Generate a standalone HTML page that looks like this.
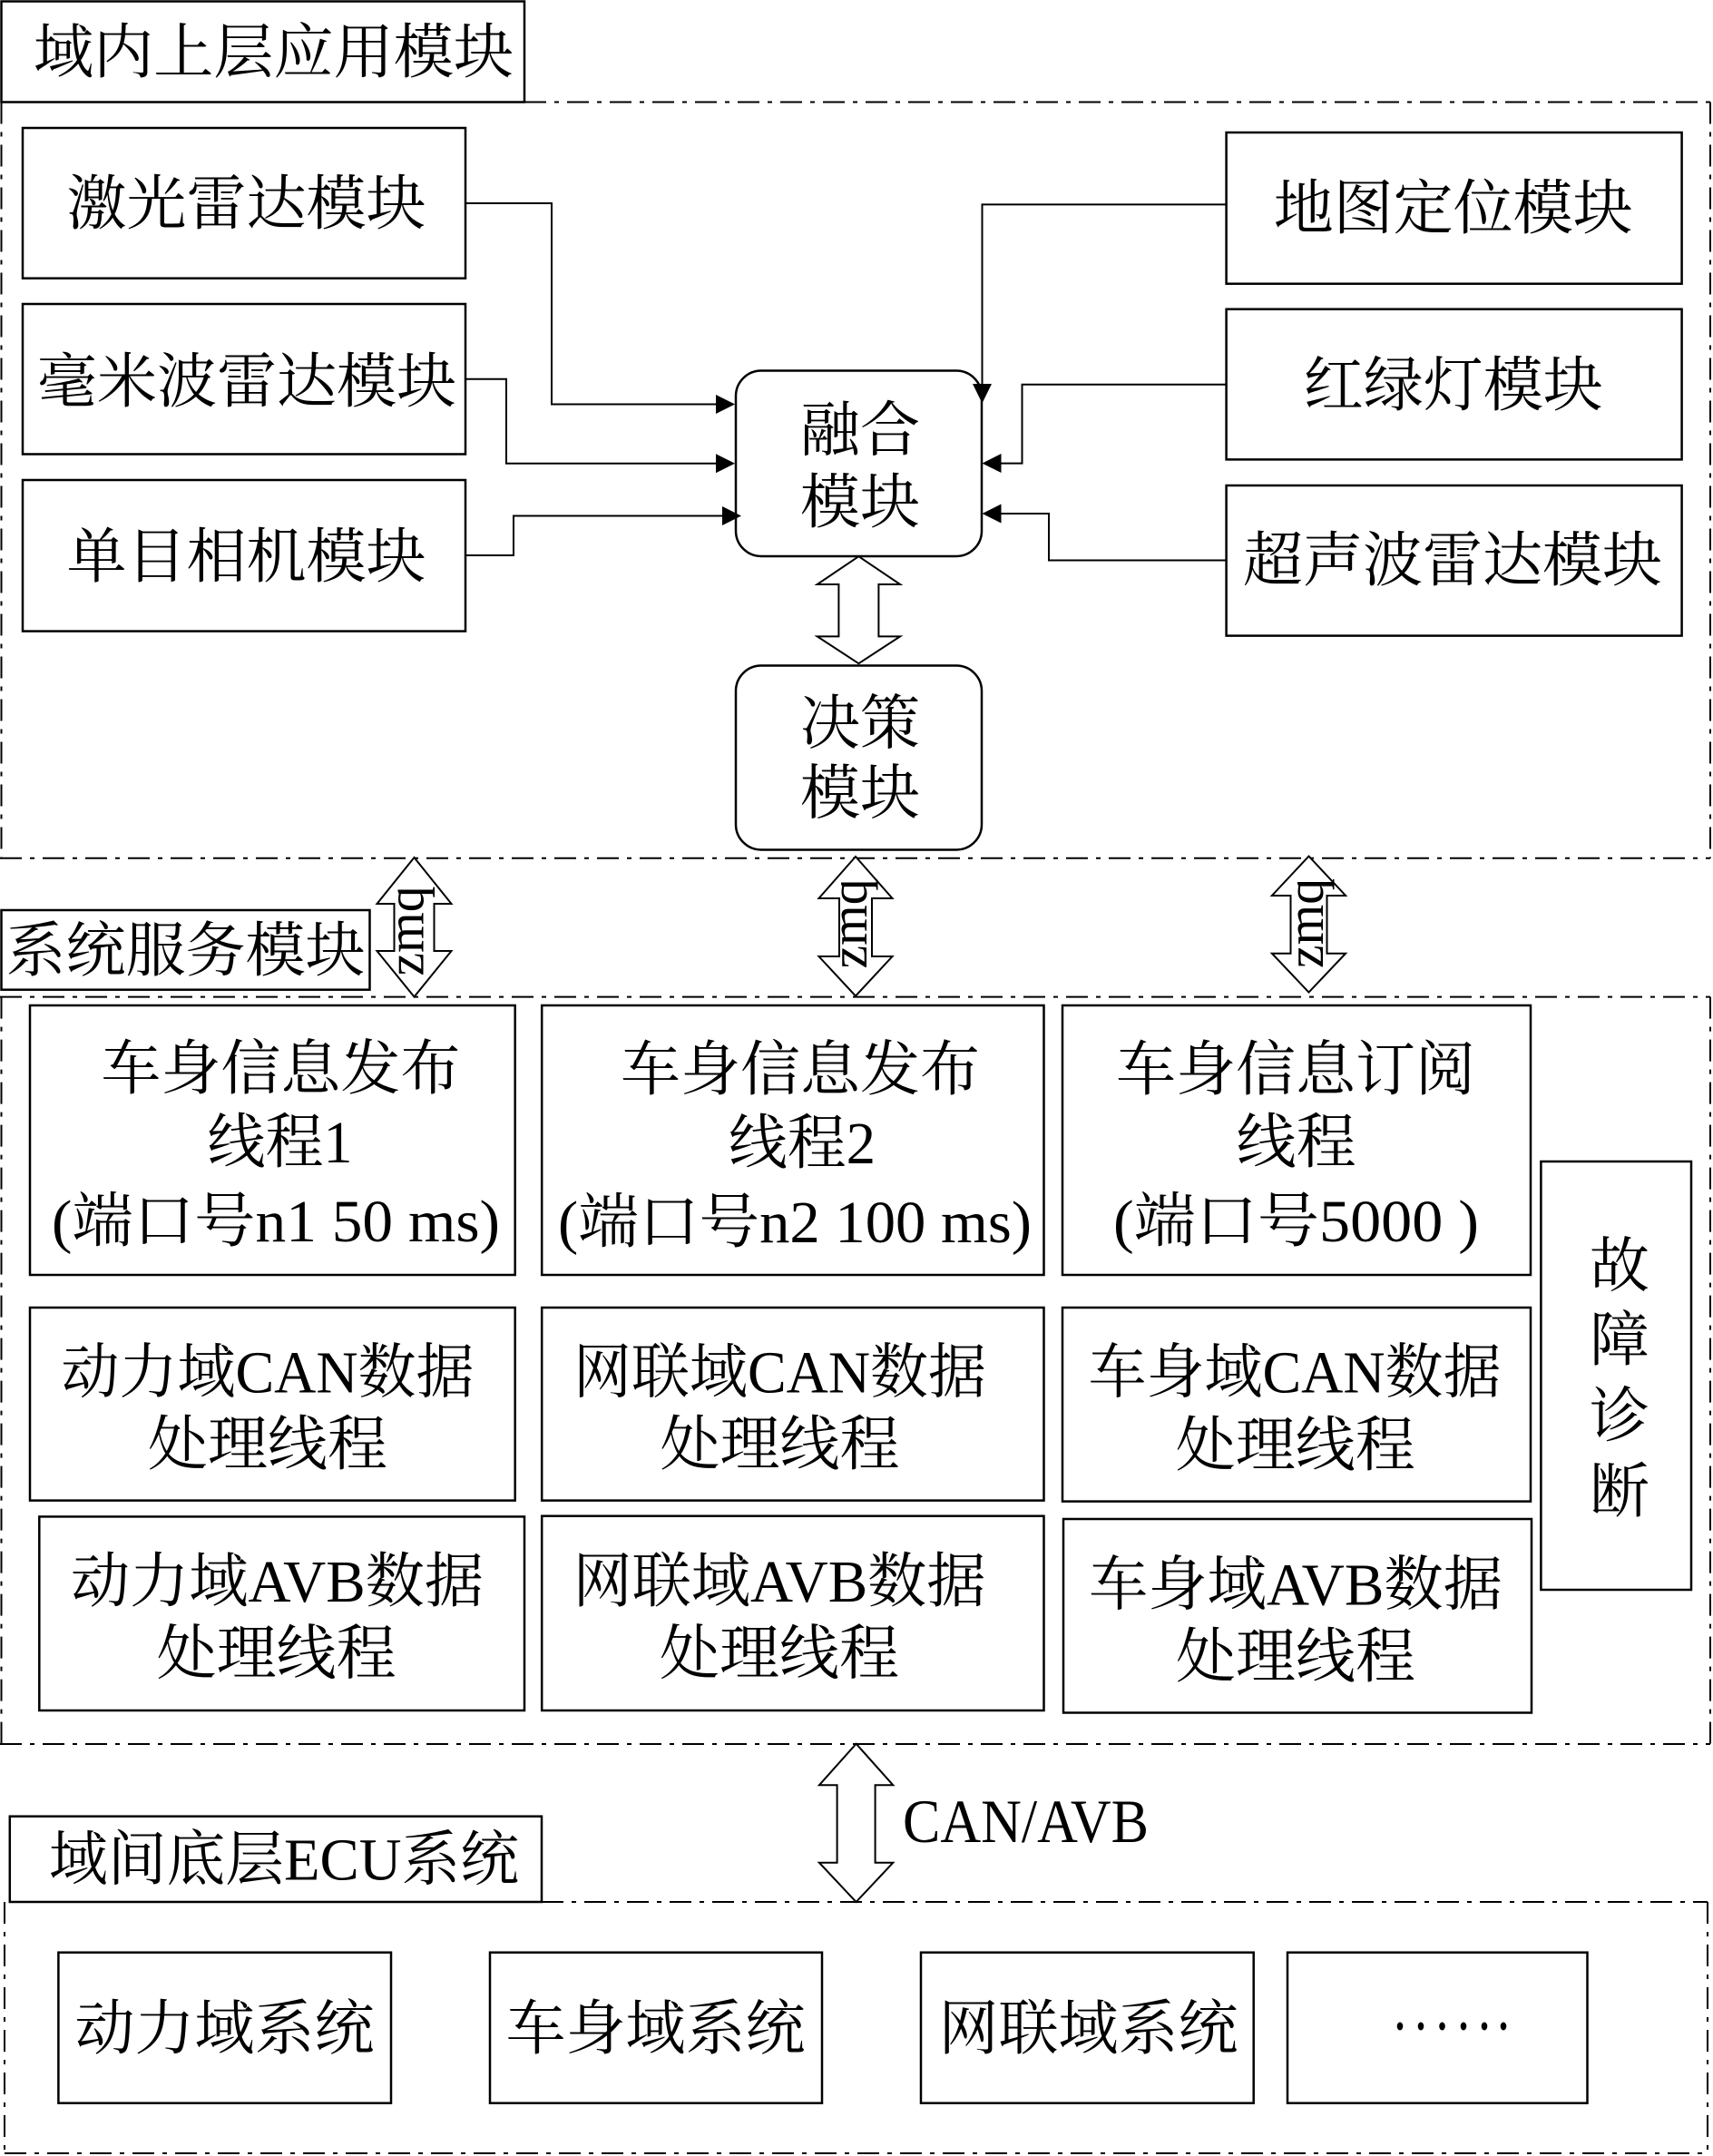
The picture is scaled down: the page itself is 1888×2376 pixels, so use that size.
<!DOCTYPE html>
<html>
<head>
<meta charset="utf-8">
<style>
html,body{margin:0;padding:0;background:#fff;}
svg{display:block;}
text{font-family:"Liberation Serif","Noto Serif CJK SC",serif;fill:#000;}
</style>
</head>
<body>
<svg width="1888" height="2376" viewBox="0 0 1888 2376" xmlns="http://www.w3.org/2000/svg">
<rect x="0" y="0" width="1888" height="2376" fill="#fff"/>

<!-- dash-dot region borders -->
<g stroke="#000" stroke-width="2" fill="none" stroke-dasharray="24 9 5 9">
  <line x1="578" y1="112.5" x2="1885" y2="112.5"/>
  <line x1="1885" y1="112.5" x2="1885" y2="945.7"/>
  <line x1="0" y1="945.7" x2="1885" y2="945.7"/>
  <line x1="1.5" y1="112.5" x2="1.5" y2="945.7"/>

  <line x1="0" y1="1098.6" x2="1885" y2="1098.6"/>
  <line x1="1885" y1="1098.6" x2="1885" y2="1922"/>
  <line x1="0" y1="1922" x2="1885" y2="1922"/>
  <line x1="1.5" y1="1098.6" x2="1.5" y2="1922"/>

  <line x1="597" y1="2096" x2="1882" y2="2096"/>
  <line x1="1882" y1="2096" x2="1882" y2="2373"/>
  <line x1="5" y1="2373" x2="1882" y2="2373"/>
  <line x1="5" y1="2096" x2="5" y2="2373"/>
</g>

<!-- boxes -->
<g stroke="#000" stroke-width="2.5" fill="none">
  <rect x="1.5" y="1.5" width="576.5" height="111"/>
  <rect x="25" y="141" width="488" height="165.7"/>
  <rect x="25" y="335" width="488" height="165.5"/>
  <rect x="25" y="529" width="488" height="166.6"/>
  <rect x="1351.6" y="146" width="502" height="166.7"/>
  <rect x="1351.6" y="340.7" width="502" height="165.7"/>
  <rect x="1351.6" y="535" width="502" height="165.6"/>
  <rect x="811" y="408.5" width="271" height="204.5" rx="28" ry="28"/>
  <rect x="811" y="733.5" width="271" height="203" rx="28" ry="28"/>

  <rect x="1.5" y="1003" width="406" height="87.7"/>
  <rect x="33" y="1108" width="534.7" height="297"/>
  <rect x="597.2" y="1108" width="553.3" height="297"/>
  <rect x="1171" y="1108" width="516" height="297"/>
  <rect x="33" y="1441" width="534.7" height="212.6"/>
  <rect x="597.2" y="1441" width="553.3" height="212.6"/>
  <rect x="1171" y="1441" width="516" height="213.6"/>
  <rect x="43.3" y="1671.4" width="534.7" height="213.6"/>
  <rect x="597.2" y="1670.7" width="553.3" height="214.3"/>
  <rect x="1172" y="1674" width="516" height="213.5"/>
  <rect x="1698.4" y="1280" width="165.6" height="472"/>

  <rect x="10.8" y="2001.7" width="586.2" height="94.3"/>
  <rect x="64.4" y="2151.7" width="366.6" height="166"/>
  <rect x="540" y="2151.7" width="366" height="166"/>
  <rect x="1015" y="2151.7" width="366.7" height="166"/>
  <rect x="1419" y="2151.7" width="330.5" height="166"/>
</g>

<!-- connectors -->
<g stroke="#000" stroke-width="2" fill="none">
  <polyline points="513,224 608,224 608,445.5 792,445.5"/>
  <polyline points="513,417.8 558,417.8 558,510.7 792,510.7"/>
  <polyline points="513,612 566,612 566,568.5 798,568.5"/>
  <polyline points="1351.6,225.4 1082.5,225.4 1082.5,426"/>
  <polyline points="1351.6,423.8 1126.5,423.8 1126.5,510.6 1101,510.6"/>
  <polyline points="1351.6,617.5 1156,617.5 1156,566 1101,566"/>
</g>
<g fill="#000" stroke="none">
  <polygon points="810,445.5 789,435 789,456"/>
  <polygon points="810,510.7 789,500.2 789,521.2"/>
  <polygon points="817,568.5 796,558 796,579"/>
  <polygon points="1082.5,444.4 1072,423 1093,423"/>
  <polygon points="1082.5,510.6 1103.5,500 1103.5,521"/>
  <polygon points="1082.5,566 1103.5,555.5 1103.5,576.5"/>
</g>

<!-- double block arrows -->
<g stroke="#000" stroke-width="2" fill="#fff" stroke-linejoin="miter">
  <polygon points="946.4,613.2 992.1,644 968.4,644 968.4,701.4 992.1,701.4 946.4,731.2 900.7,701.4 924.4,701.4 924.4,644 900.7,644"/>
  <polygon points="456.5,945 497.5,996 478.5,996 478.5,1048 497.5,1048 456.5,1098.5 415.5,1048 434.5,1048 434.5,996 415.5,996"/>
  <polygon points="943,944 983.5,990 961,990 961,1054 983.5,1054 943,1097.6 902.5,1054 925,1054 925,990 902.5,990"/>
  <polygon points="1442.5,943.6 1483.1,987 1462.5,987 1462.5,1050.7 1483.1,1050.7 1442.5,1093.6 1401.9,1050.7 1422.5,1050.7 1422.5,987 1401.9,987"/>
  <polygon points="943.6,1921.7 984.3,1967.3 964.6,1967.3 964.6,2052.7 984.3,2052.7 943.6,2096 902.9,2052.7 922.6,2052.7 922.6,1967.3 902.9,1967.3"/>
</g>

<!-- zmq labels -->
<g font-size="58">
  <text transform="translate(466.5,1026) rotate(-90)" text-anchor="middle" textLength="99" lengthAdjust="spacingAndGlyphs">zmq</text>
  <text transform="translate(955,1018) rotate(-90)" text-anchor="middle" textLength="99" lengthAdjust="spacingAndGlyphs">zmq</text>
  <text transform="translate(1458,1017.5) rotate(-90)" text-anchor="middle" textLength="99" lengthAdjust="spacingAndGlyphs">zmq</text>
</g>

<!-- texts -->
<g font-size="66" text-anchor="middle">
  <text x="301.5" y="80" textLength="529" lengthAdjust="spacingAndGlyphs">域内上层应用模块</text>
  <text x="271.5" y="247">激光雷达模块</text>
  <text x="272" y="443">毫米波雷达模块</text>
  <text x="271.5" y="636">单目相机模块</text>
  <text x="1601.7" y="252">地图定位模块</text>
  <text x="1601.8" y="447">红绿灯模块</text>
  <text x="1601" y="640">超声波雷达模块</text>
  <text x="948" y="496.5">融合</text>
  <text x="948" y="576">模块</text>
  <text x="948" y="819.5">决策</text>
  <text x="948" y="896.5">模块</text>

  <text x="204.5" y="1070">系统服务模块</text>

  <text x="309.4" y="1200">车身信息发布</text>
  <text x="308.5" y="1281" textLength="160" lengthAdjust="spacingAndGlyphs">线程1</text>
  <text x="304" y="1368" textLength="494" lengthAdjust="spacingAndGlyphs">(端口号n1 50 ms)</text>

  <text x="882" y="1201">车身信息发布</text>
  <text x="884" y="1282" textLength="162" lengthAdjust="spacingAndGlyphs">线程2</text>
  <text x="876" y="1369" textLength="522" lengthAdjust="spacingAndGlyphs">(端口号n2 100 ms)</text>

  <text x="1428" y="1201">车身信息订阅</text>
  <text x="1428.6" y="1281">线程</text>
  <text x="1428.5" y="1368" textLength="403" lengthAdjust="spacingAndGlyphs">(端口号5000 )</text>

  <text x="295" y="1534.5" textLength="455" lengthAdjust="spacingAndGlyphs">动力域CAN数据</text>
  <text x="295" y="1614">处理线程</text>
  <text x="859.5" y="1534.5" textLength="455" lengthAdjust="spacingAndGlyphs">网联域CAN数据</text>
  <text x="859.5" y="1614">处理线程</text>
  <text x="1427" y="1534.5" textLength="455" lengthAdjust="spacingAndGlyphs">车身域CAN数据</text>
  <text x="1427.8" y="1615">处理线程</text>

  <text x="305.5" y="1765" textLength="455" lengthAdjust="spacingAndGlyphs">动力域AVB数据</text>
  <text x="304.6" y="1844.5">处理线程</text>
  <text x="859" y="1765" textLength="455" lengthAdjust="spacingAndGlyphs">网联域AVB数据</text>
  <text x="859" y="1844.5">处理线程</text>
  <text x="1428" y="1768.5" textLength="456" lengthAdjust="spacingAndGlyphs">车身域AVB数据</text>
  <text x="1428" y="1848">处理线程</text>

  <text x="1785" y="1417.6">故</text>
  <text x="1785" y="1499">障</text>
  <text x="1785" y="1583">诊</text>
  <text x="1785" y="1666">断</text>

  <text x="313" y="2071.7" textLength="518" lengthAdjust="spacingAndGlyphs">域间底层ECU系统</text>
  <text x="247.5" y="2258">动力域系统</text>
  <text x="722.5" y="2258">车身域系统</text>
  <text x="1199.5" y="2258">网联域系统</text>
</g>

<text x="995" y="2030" font-size="68" textLength="271" lengthAdjust="spacingAndGlyphs">CAN/AVB</text>

<!-- ellipsis dots -->
<g fill="#000">
  <ellipse cx="1543" cy="2233" rx="3.3" ry="4.5"/>
  <ellipse cx="1566" cy="2233" rx="3.3" ry="4.5"/>
  <ellipse cx="1589.5" cy="2233" rx="3.3" ry="4.5"/>
  <ellipse cx="1613" cy="2233" rx="3.3" ry="4.5"/>
  <ellipse cx="1636" cy="2233" rx="3.3" ry="4.5"/>
  <ellipse cx="1657" cy="2233" rx="3.3" ry="4.5"/>
</g>
</svg>
</body>
</html>
